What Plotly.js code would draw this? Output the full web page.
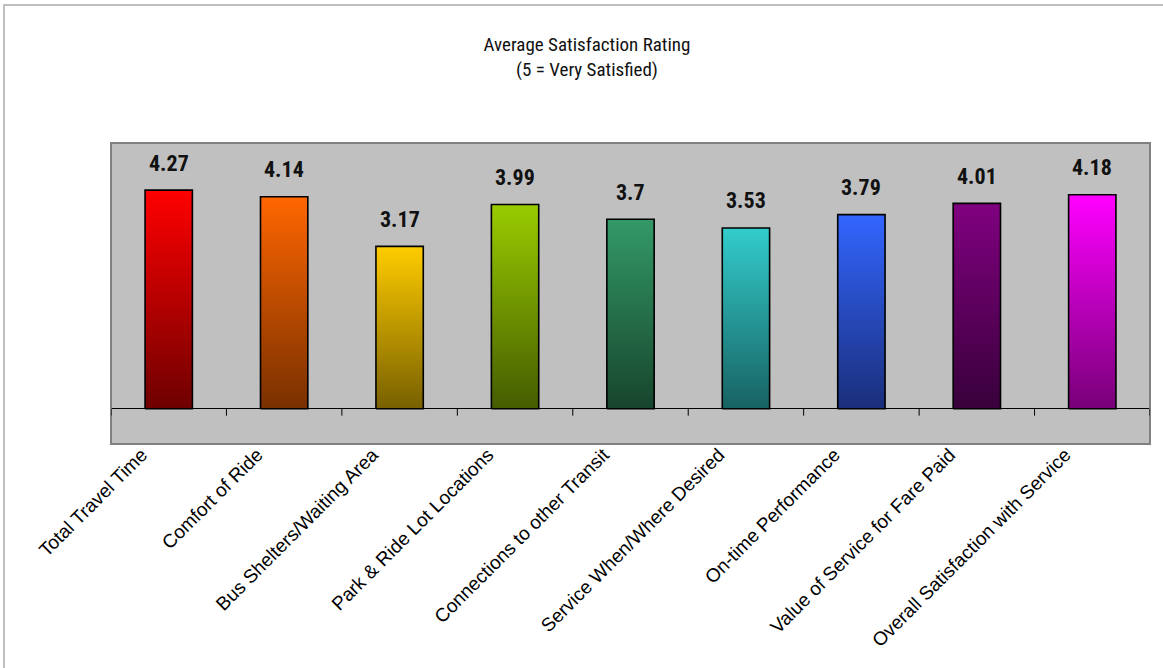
<!DOCTYPE html>
<html>
<head>
<meta charset="utf-8">
<script src="https://cdn.plot.ly/plotly-3.0.1.min.js"></script>
<style>
  html, body { margin: 0; padding: 0; background: #ffffff; }
  #chart { width: 1163px; height: 668px; }
</style>
</head>
<body>
<div id="chart"></div>
<script>
// Survey categories and their average ratings
const categories = [
  "Total Travel Time",
  "Comfort of Ride",
  "Bus Shelters/Waiting Area",
  "Park & Ride Lot Locations",
  "Connections to other Transit",
  "Service When/Where Desired",
  "On-time Performance",
  "Value of Service for Fare Paid",
  "Overall Satisfaction with Service"
];
const ratings = [4.27, 4.14, 3.17, 3.99, 3.7, 3.53, 3.79, 4.01, 4.18];
const ratingLabels = ["4.27", "4.14", "3.17", "3.99", "3.7", "3.53", "3.79", "4.01", "4.18"];

// Bar colours: bright at the top, shading down to a darker tone at the base
const topColors = ["#FF0000", "#FF6600", "#FFCC00", "#99CC00", "#339966", "#33CCCC", "#3366FF", "#800080", "#FF00FF"];
const baseColors = ["#6E0000", "#783000", "#786000", "#455C00", "#17452D", "#186262", "#1A2E7A", "#38003A", "#780078"];

const NARROW = "'Roboto Condensed', 'Open Sans Condensed', sans-serif";
const BAR_WIDTH = 0.41;
const half = BAR_WIDTH / 2;

// Each bar is a filled rectangle on the category axis with a vertical gradient
const traces = categories.map((name, i) => ({
  type: "scatter",
  mode: "lines",
  name: name,
  x: [i - half, i + half, i + half, i - half, i - half],
  y: [0, 0, ratings[i], ratings[i], 0],
  fill: "toself",
  fillcolor: topColors[i],
  fillgradient: {
    type: "vertical",
    colorscale: [[0, baseColors[i]], [1, topColors[i]]]
  },
  line: { color: "#000000", width: 1.6 },
  hoverinfo: "text",
  text: name + ": " + ratingLabels[i],
  showlegend: false
}));

// Value labels above the bars
const valueAnnotations = categories.map((name, i) => ({
  x: i,
  y: ratings[i],
  xref: "x",
  yref: "y",
  text: "<b>" + ratingLabels[i] + "</b>",
  showarrow: false,
  yanchor: "middle",
  yshift: 27,
  font: { family: NARROW, size: 22, color: "#111111" }
}));

// Small tick marks hanging below the baseline between categories
const boundaryTicks = [];
for (let k = 0; k <= categories.length; k++) {
  boundaryTicks.push({
    type: "line",
    xref: "x",
    yref: "y",
    ysizemode: "pixel",
    yanchor: 0,
    x0: k - 0.5, x1: k - 0.5,
    y0: 0, y1: -7,
    line: { color: "#000000", width: 1 }
  });
}

const layout = {
  width: 1163,
  height: 668,
  margin: { l: 111, r: 13, t: 143, b: 224, pad: 0 },
  paper_bgcolor: "#FFFFFF",
  plot_bgcolor: "#C0C0C0",
  title: {
    text: "Average Satisfaction Rating<br>(5 = Very Satisfied)",
    x: 587 / 1163,
    xref: "container",
    xanchor: "center",
    y: 1 - 51 / 668,
    yref: "container",
    yanchor: "top",
    font: { family: NARROW, size: 19, color: "#111111" }
  },
  xaxis: {
    range: [-0.5, categories.length - 0.5],
    tickmode: "array",
    tickvals: categories.map((c, i) => i),
    ticktext: categories,
    tickangle: -45,
    ticks: "",
    ticklabelshift: -27,
    ticklabelstandoff: -5,
    showgrid: false,
    zeroline: false,
    showline: false,
    fixedrange: true,
    tickfont: { family: "'Liberation Sans', Arial, sans-serif", size: 19, color: "#000000" }
  },
  yaxis: {
    range: [-0.69, 5.19],
    showticklabels: false,
    showgrid: false,
    ticks: "",
    zeroline: true,
    zerolinecolor: "#000000",
    zerolinewidth: 1,
    showline: false,
    fixedrange: true
  },
  shapes: [
    // plot-area frame
    {
      type: "rect", xref: "paper", yref: "paper",
      x0: 0, x1: 1, y0: 0, y1: 1,
      line: { color: "#808080", width: 2 },
      fillcolor: "rgba(0,0,0,0)"
    },
    // outer chart frame
    {
      type: "rect", xref: "paper", yref: "paper",
      x0: (4 - 111) / 1039, x1: 1.1, y0: -1, y1: (444 - 5) / 301,
      line: { color: "#BFBFBF", width: 2 },
      fillcolor: "rgba(0,0,0,0)"
    }
  ].concat(boundaryTicks),
  annotations: valueAnnotations,
  showlegend: false
};

Plotly.newPlot("chart", traces, layout, { displayModeBar: false, staticPlot: true });
</script>
</body>
</html>
